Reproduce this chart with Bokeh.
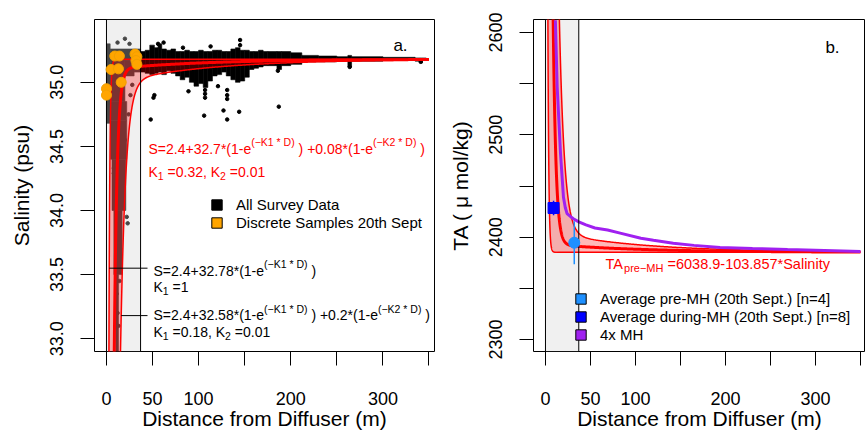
import numpy as np
from bokeh.plotting import figure
from bokeh.models import Range1d, FixedTicker, Label, Legend, LegendItem, PrintfTickFormatter
from bokeh.layouts import row
from bokeh.embed import file_html
from bokeh.resources import INLINE

# ---------------- data ----------------
# Salinity fits printed on panel a:  S = base + A1*(1-exp(-K1*D)) + A2*(1-exp(-K2*D))
fit_base = [2.4, 2.4, 2.4]          # main fit, fast fit (K1=1), slow fit (K1=0.18)
fit_a1 = [32.7, 32.78, 32.58]
fit_k1 = [0.32, 1.0, 0.18]
fit_a2 = [0.08, 0.0, 0.2]
fit_k2 = [0.01, 0.0, 0.01]
# TA_pre-MH = 6038.9 - 103.857 * Salinity
ta_intercept = 6038.9
ta_slope = -103.857

mixing_zone = [0, 37]      # grey near-field band (m)

# All survey data (dense cloud, read as blocks): distance from/to (m), salinity low/high
survey_d0 = [0, 4, 4, 4, 4.5, 6, 8, 10, 20, 30,
             37, 42, 47, 52, 56, 60, 65, 70, 75, 80, 85, 90, 95, 100, 105, 110, 115, 120, 125, 130,
             135, 140, 145, 150, 155, 160, 165, 170, 175, 185, 190, 200, 212, 230, 250, 262, 266, 300, 335, 340, 343]
survey_d1 = [4, 37, 20, 22, 22, 21, 17, 13, 30, 37,
             42, 47, 52, 56, 60, 65, 70, 75, 80, 85, 90, 95, 100, 105, 110, 115, 120, 125, 130, 135,
             140, 145, 150, 155, 160, 165, 170, 175, 185, 190, 200, 212, 230, 250, 262, 266, 300, 335, 340, 343, 347]
survey_lo = [34.68, 35.17, 34.85, 34.70, 34.40, 34.00, 33.50, 32.90, 35.05, 35.08,
             35.08, 35.07, 35.06, 35.07, 35.08, 35.06, 35.09, 35.07, 35.05, 35.02, 35.04, 35.00, 34.97, 34.99, 34.96, 35.01, 35.05, 35.06, 35.08, 35.05,
             35.02, 35.00, 35.01, 35.04, 35.10, 35.11, 35.12, 35.13, 35.13, 35.10, 35.13, 35.14, 35.16, 35.16, 35.165, 35.12, 35.165, 35.17, 35.165, 35.15, 35.17]
survey_hi = [35.30, 35.26, 35.17, 34.85, 34.70, 34.40, 34.00, 33.50, 35.17, 35.17,
             35.24, 35.25, 35.29, 35.27, 35.30, 35.26, 35.25, 35.26, 35.24, 35.24, 35.25, 35.24, 35.24, 35.25, 35.24, 35.24, 35.25, 35.25, 35.24, 35.24,
             35.26, 35.27, 35.25, 35.25, 35.24, 35.24, 35.25, 35.24, 35.24, 35.24, 35.24, 35.23, 35.21, 35.205, 35.20, 35.21, 35.20, 35.195, 35.19, 35.19, 35.19]
# scattered single survey points
survey_pt_d = [20, 12, 25, 62, 56, 145, 145, 113, 83,
               48, 52, 51, 107, 107, 107, 106, 127, 131, 131, 131, 131, 144, 187, 186, 264, 341, 89, 121,
               22, 23, 8, 8, 9, 14, 12, 13, 11, 15, 16, 18, 20, 24, 26, 28]
survey_pt_s = [35.34, 35.31, 35.30, 35.31, 35.30, 35.33, 35.29, 35.28, 35.27,
               34.71, 34.90, 34.88, 34.94, 34.91, 34.88, 34.74, 34.78, 34.71, 34.94, 34.90, 34.87, 34.77, 34.81, 35.09, 35.12, 35.16, 34.93, 34.97,
               33.95, 33.90, 34.29, 34.33, 34.50, 33.45, 33.20, 33.10, 33.35, 33.70, 34.10, 34.30, 34.55, 34.75, 34.90, 34.98]

# Discrete samples 20th Sept
discrete_d = [0, 0, 9, 14, 5, 13, 16, 31, 33, 32, 33]
discrete_s = [34.95, 34.90, 35.205, 35.205, 35.10, 35.105, 35.00, 35.22, 35.20, 35.17, 35.14]

# Panel b
mh4x_d = [11, 13, 16.7, 20, 22, 24, 28, 31, 37, 45, 55, 69, 83, 106, 120, 142, 165, 194, 230, 269, 310, 350]
mh4x_ta = [2612, 2547, 2482, 2439, 2429, 2423, 2420, 2418, 2415, 2412, 2409, 2407, 2404, 2399, 2397, 2394,
           2392, 2390, 2389, 2388, 2387, 2386]
pre_mh_d = [32]
pre_mh_ta = [2394.6]
pre_mh_err = [21]
during_mh_d = [9]
during_mh_ta = [2428.5]
during_mh_err = [7]

xtick_vals = [0, 50, 100, 150, 200, 250, 300, 350]
xtick_text = ["0", "50", "100", "", "200", "", "300", ""]
ya_ticks = [33.0, 33.5, 34.0, 34.5, 35.0]
yb_ticks = [2300, 2350, 2400, 2450, 2500, 2550, 2600]
yb_text = ["2300", "", "2400", "", "2500", "", "2600"]

# ---------------- setup ----------------
FONT = "Liberation Sans"
XA = (-13.0, 356.0)
YA = (32.9, 35.49)
XB = (-13.3, 355.6)
YB = (2288.3, 2612.7)
FA = (94, 434, 19, 351)   # frame px left,right,top,bottom
FB = (533, 865, 19, 351)
NAN = [float("nan")]


def make_conv(xr, yr, fr):
    l, r, t, b = fr

    def conv(px, py):
        return (xr[0] + (px - l) / (r - l) * (xr[1] - xr[0]),
                yr[1] - (py - t) / (b - t) * (yr[1] - yr[0]))
    return conv


conv_a = make_conv(XA, YA, FA)
conv_b = make_conv(XB, YB, FB)

AW = {' ': 278, '(': 333, ')': 333, '*': 389, '+': 584, ',': 278, '-': 333, '.': 278, '=': 584,
      '\u2212': 584, 'A': 667, 'D': 722, 'K': 667, 'M': 833, 'H': 722, 'S': 667, 'T': 611,
      'a': 556, 'e': 556, 'i': 222, 'l': 222, 'n': 556, 'p': 556, 'r': 333, 't': 278, 'y': 500}


def tw(s, size):
    return sum(AW.get(c, 556) for c in s) * size / 1000.0


def label(p, conv, px, py, text, size, color="black", align="left"):
    X, Y = conv(px, py)
    p.add_layout(Label(x=X, y=Y, text=text, text_font=FONT, text_font_size=f"{size}px",
                       text_color=color, text_baseline="middle", text_align=align))


def rich(p, conv, x_px, y_px, segs, color, size=14, small=10.5):
    x = x_px
    for text, kind in segs:
        fs = size if kind == 'main' else small
        dy = {'main': 0, 'sup': -6.5, 'sub': 4.0}[kind]
        stripped = text.lstrip(' ')
        x += tw(text[:len(text) - len(stripped)], fs)
        label(p, conv, x, y_px + dy, stripped, fs, color)
        x += tw(stripped, fs)


def style(p):
    p.xgrid.visible = False
    p.ygrid.visible = False
    p.outline_line_color = "black"
    p.outline_line_width = 1
    p.outline_line_alpha = 1
    for ax in (p.xaxis[0], p.yaxis[0]):
        ax.axis_line_color = None
        ax.major_tick_out = 14
        ax.major_tick_in = 0
        ax.minor_tick_line_color = None
        ax.major_tick_line_color = "black"
        ax.major_label_text_font = FONT
        ax.major_label_text_font_size = "18px"
        ax.major_label_text_color = "black"
        ax.axis_label_text_font = FONT
        ax.axis_label_text_font_size = "21px"
        ax.axis_label_text_font_style = "normal"
        ax.axis_label_text_color = "black"
    p.xaxis.major_label_standoff = 26
    p.xaxis.axis_label_standoff = -1
    p.xaxis.axis_label = "Distance from Diffuser (m)"
    p.yaxis.major_label_standoff = 17
    p.yaxis.axis_label_standoff = 15
    p.yaxis.major_label_orientation = "vertical"
    p.xaxis.ticker = FixedTicker(ticks=xtick_vals)
    p.xaxis.major_label_overrides = {v: t for v, t in zip(xtick_vals, xtick_text)}


def legend_box(p, items, loc):
    leg = Legend(items=items, location=loc, orientation="vertical", glyph_width=13, glyph_height=13,
                 label_standoff=13, label_height=18, spacing=0, padding=0, margin=0,
                 border_line_color=None, background_fill_alpha=0,
                 label_text_font=FONT, label_text_font_size="15px", label_text_color="black")
    p.add_layout(leg)


# model curves
dist = np.concatenate([np.arange(0, 40, 0.05), np.arange(40, 351, 1.0)])
curves = []
for i in range(3):
    curves.append(fit_base[i] + fit_a1[i] * (1 - np.exp(-fit_k1[i] * dist))
                  + fit_a2[i] * (1 - np.exp(-fit_k2[i] * dist)))
s_main, s_fast, s_slow = curves
ta_main, ta_fast, ta_slow = [ta_intercept + ta_slope * c for c in curves]

GREY = (210, 210, 210)

# ---------------- panel a ----------------
pa = figure(frame_width=340, frame_height=332, x_range=Range1d(*XA), y_range=Range1d(*YA),
            output_backend="svg", toolbar_location=None,
            min_border_left=94, min_border_right=6, min_border_top=19, min_border_bottom=79)
style(pa)
pa.yaxis.ticker = FixedTicker(ticks=ya_ticks)
pa.yaxis.formatter = PrintfTickFormatter(format="%.1f")
pa.yaxis.axis_label = "Salinity (psu)"

pa.quad(left=survey_d0, right=survey_d1, bottom=survey_lo, top=survey_hi,
        fill_color="black", line_color="black", line_width=0.6)
pa.scatter(survey_pt_d, survey_pt_s, size=3.5, color="black")
pa.quad(left=[mixing_zone[0]], right=[mixing_zone[1]], bottom=[YA[0]], top=[YA[1]],
        fill_color=GREY, fill_alpha=0.333, line_color=None)
pa.varea(x=dist, y1=s_slow, y2=s_fast, fill_color="red", fill_alpha=0.28)
pa.line(dist, s_fast, line_color="red", line_width=1.5)
pa.line(dist, s_slow, line_color="red", line_width=1.5)
pa.line(dist, s_main, line_color="red", line_width=3)
pa.segment(x0=mixing_zone, x1=mixing_zone, y0=[YA[0]] * 2, y1=[YA[1]] * 2, line_color="black", line_width=1)

# leader lines to the fast and slow fits
near = dist < 40
lead_levels = [33.55, 33.18]
lead_x0 = [float(np.interp(lead_levels[0], s_fast[near], dist[near])),
           float(np.interp(lead_levels[1], s_slow[near], dist[near]))]
lead_x1 = conv_a(147, 0)[0]
pa.segment(x0=lead_x0, x1=[lead_x1] * 2, y0=lead_levels, y1=lead_levels, line_color="black", line_width=1)

pa.scatter(discrete_d, discrete_s, size=10, fill_color="#FFA500", line_color="#F2A000")

la1 = pa.quad(left=NAN, right=NAN, top=NAN, bottom=NAN, fill_color="black", line_color="black")
la2 = pa.quad(left=NAN, right=NAN, top=NAN, bottom=NAN, fill_color="#FFA500", line_color="black")
legend_box(pa, [LegendItem(label="All Survey Data", renderers=[la1]),
                LegendItem(label="Discrete Samples 20th Sept", renderers=[la2])], (116, 120))

rich(pa, conv_a, 148, 148, [("S=2.4+32.7*(1-e", 'main'), ("(\u2212K1 * D)", 'sup'),
                            (" ) +0.08*(1-e", 'main'), ("(\u2212K2 * D)", 'sup'), (" )", 'main')], "red")
rich(pa, conv_a, 148, 171, [("K", 'main'), ("1", 'sub'), (" =0.32, K", 'main'), ("2", 'sub'),
                            (" =0.01", 'main')], "red")
rich(pa, conv_a, 153, 270, [("S=2.4+32.78*(1-e", 'main'), ("(\u2212K1 * D)", 'sup'), (" )", 'main')], "black")
rich(pa, conv_a, 153, 286.5, [("K", 'main'), ("1", 'sub'), (" =1", 'main')], "black")
rich(pa, conv_a, 153, 314.5, [("S=2.4+32.58*(1-e", 'main'), ("(\u2212K1 * D)", 'sup'),
                              (" ) +0.2*(1-e", 'main'), ("(\u2212K2 * D)", 'sup'), (" )", 'main')], "black")
rich(pa, conv_a, 153, 331.5, [("K", 'main'), ("1", 'sub'), (" =0.18, K", 'main'), ("2", 'sub'),
                              (" =0.01", 'main')], "black")
label(pa, conv_a, 400, 45, "a.", 17, align="center")

# ---------------- panel b ----------------
pb = figure(frame_width=332, frame_height=332, x_range=Range1d(*XB), y_range=Range1d(*YB),
            output_backend="svg", toolbar_location=None,
            min_border_left=93, min_border_right=0, min_border_top=19, min_border_bottom=79)
style(pb)
pb.yaxis.ticker = FixedTicker(ticks=yb_ticks)
pb.yaxis.major_label_overrides = {v: t for v, t in zip(yb_ticks, yb_text)}
pb.yaxis.axis_label = "TA ( \u03bc mol/kg)"

pb.quad(left=[mixing_zone[0]], right=[mixing_zone[1]], bottom=[YB[0]], top=[YB[1]],
        fill_color=GREY, fill_alpha=0.333, line_color=None)
pb.varea(x=dist, y1=ta_fast, y2=ta_slow, fill_color="red", fill_alpha=0.28)
pb.line(dist, ta_fast, line_color="red", line_width=1.5)
pb.line(dist, ta_slow, line_color="red", line_width=1.5)
pb.line(dist, ta_main, line_color="red", line_width=3)
pb.line(mh4x_d, mh4x_ta, line_color="#A020F0", line_width=3)
pb.segment(x0=mixing_zone, x1=mixing_zone, y0=[YB[0]] * 2, y1=[YB[1]] * 2, line_color="black", line_width=1)

pb.segment(x0=pre_mh_d, x1=pre_mh_d,
           y0=[v - e for v, e in zip(pre_mh_ta, pre_mh_err)], y1=[v + e for v, e in zip(pre_mh_ta, pre_mh_err)],
           line_color="#1E90FF", line_width=1.5)
pb.segment(x0=during_mh_d, x1=during_mh_d,
           y0=[v - e for v, e in zip(during_mh_ta, during_mh_err)],
           y1=[v + e for v, e in zip(during_mh_ta, during_mh_err)],
           line_color="blue", line_width=1.5)
pb.scatter(pre_mh_d, pre_mh_ta, size=11, marker="circle", fill_color="#1E90FF", line_color="#1E90FF")
pb.scatter(during_mh_d, during_mh_ta, size=11, marker="square", fill_color="blue", line_color="blue")

lb1 = pb.quad(left=NAN, right=NAN, top=NAN, bottom=NAN, fill_color="#1E90FF", line_color="black")
lb2 = pb.quad(left=NAN, right=NAN, top=NAN, bottom=NAN, fill_color="blue", line_color="black")
lb3 = pb.quad(left=NAN, right=NAN, top=NAN, bottom=NAN, fill_color="#A020F0", line_color="black")
legend_box(pb, [LegendItem(label="Average pre-MH (20th Sept.) [n=4]", renderers=[lb1]),
                LegendItem(label="Average during-MH (20th Sept.) [n=8]", renderers=[lb2]),
                LegendItem(label="4x MH", renderers=[lb3])], (41, 8))

rich(pb, conv_b, 605, 263.5, [("TA", 'main'), ("pre\u2212MH", 'sub'),
                              (" =6038.9-103.857*Salinity", 'main')], "red", size=14.5, small=11)
label(pb, conv_b, 832, 47, "b.", 17, align="center")

layout = row(pa, pb)
open("out.html", "w").write(file_html(layout, INLINE))
